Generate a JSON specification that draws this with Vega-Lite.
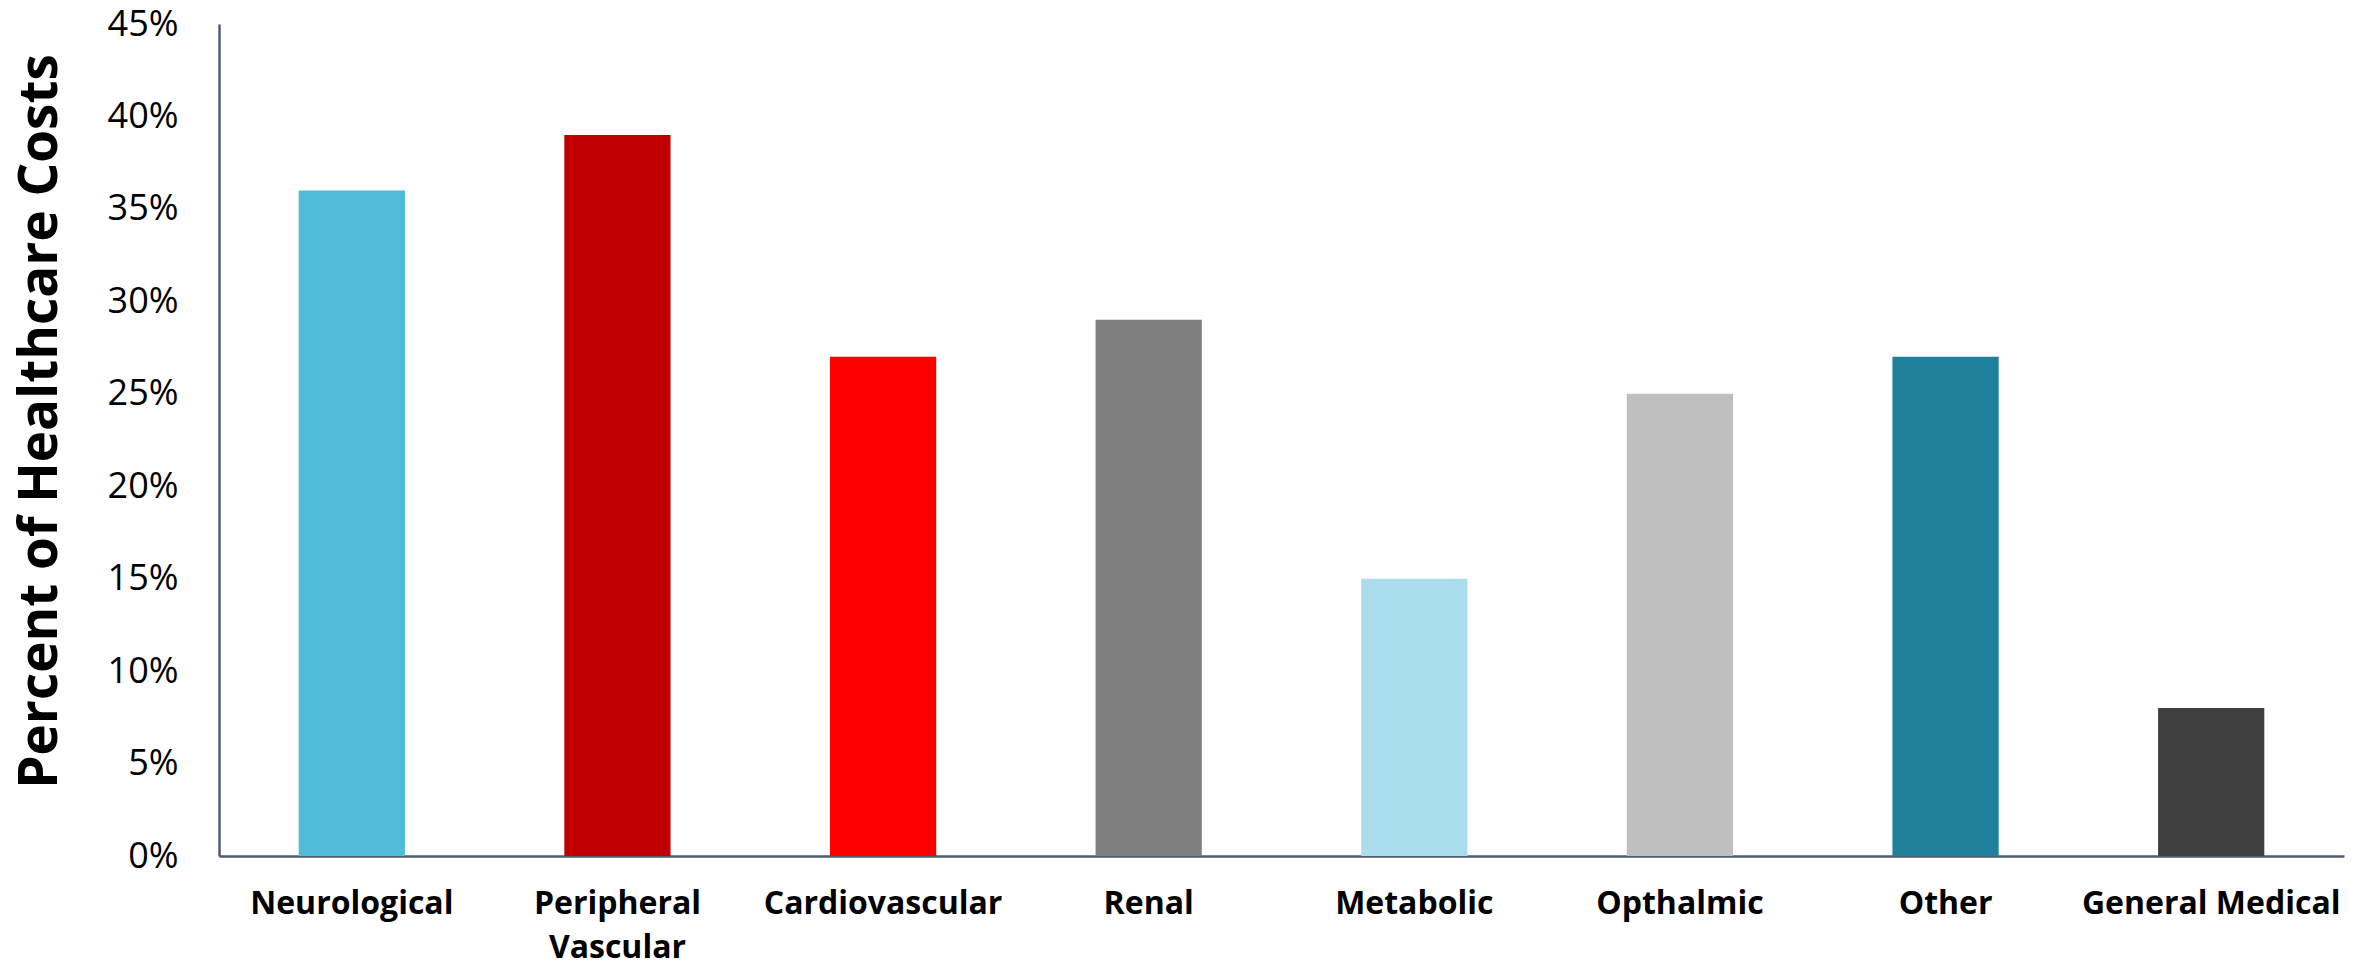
{
  "$schema": "https://vega.github.io/schema/vega-lite/v6.json",
  "autosize": "none",
  "width": 2125,
  "height": 832,
  "padding": {"left": 219, "top": 24, "right": 27, "bottom": 107},
  "background": "white",
  "config": {
    "view": {"stroke": null},
    "font": "Open Sans"
  },
  "data": {
    "values": [
      {"category": "Neurological", "share": 0.36, "color": "#4FBCD9"},
      {"category": "Peripheral Vascular", "share": 0.39, "color": "#C00000"},
      {"category": "Cardiovascular", "share": 0.27, "color": "#FF0000"},
      {"category": "Renal", "share": 0.29, "color": "#7F7F7F"},
      {"category": "Metabolic", "share": 0.15, "color": "#ABDEEC"},
      {"category": "Opthalmic", "share": 0.25, "color": "#BFBFBF"},
      {"category": "Other", "share": 0.27, "color": "#1F809B"},
      {"category": "General Medical", "share": 0.08, "color": "#404040"}
    ]
  },
  "mark": {"type": "bar"},
  "encoding": {
    "x": {
      "field": "category",
      "type": "nominal",
      "sort": null,
      "scale": {"paddingInner": 0.6, "paddingOuter": 0.3},
      "axis": {
        "title": null,
        "labelAngle": 0,
        "labelFont": "Open Sans",
        "labelFontWeight": "bold",
        "labelFontSize": 32,
        "labelColor": "#000000",
        "labelPadding": 32,
        "labelLineHeight": 44,
        "labelBaseline": "top",
        "labelLimit": 0,
        "labelOverlap": false,
        "labelExpr": "datum.label == 'Peripheral Vascular' ? ['Peripheral', 'Vascular'] : datum.label",
        "ticks": false,
        "domainColor": "#4E5D72",
        "domainWidth": 2.5,
        "grid": false
      }
    },
    "y": {
      "field": "share",
      "type": "quantitative",
      "scale": {"domain": [0, 0.45], "nice": false},
      "axis": {
        "title": "Percent of Healthcare Costs",
        "titleFont": "Open Sans",
        "titleFontWeight": "bold",
        "titleFontSize": 53,
        "titleColor": "#000000",
        "titleX": -179,
        "titleY": 397,
        "titleBaseline": "middle",
        "titleLimit": 0,
        "values": [0, 0.05, 0.1, 0.15, 0.2, 0.25, 0.3, 0.35, 0.4, 0.45],
        "format": ".0%",
        "labelFont": "Open Sans",
        "labelFontSize": 36,
        "labelColor": "#000000",
        "labelPadding": 41,
        "labelBaseline": "middle",
        "labelFlush": false,
        "ticks": false,
        "domainColor": "#4E5D72",
        "domainWidth": 2.5,
        "grid": false
      }
    },
    "color": {"field": "color", "type": "nominal", "scale": null, "legend": null}
  }
}
